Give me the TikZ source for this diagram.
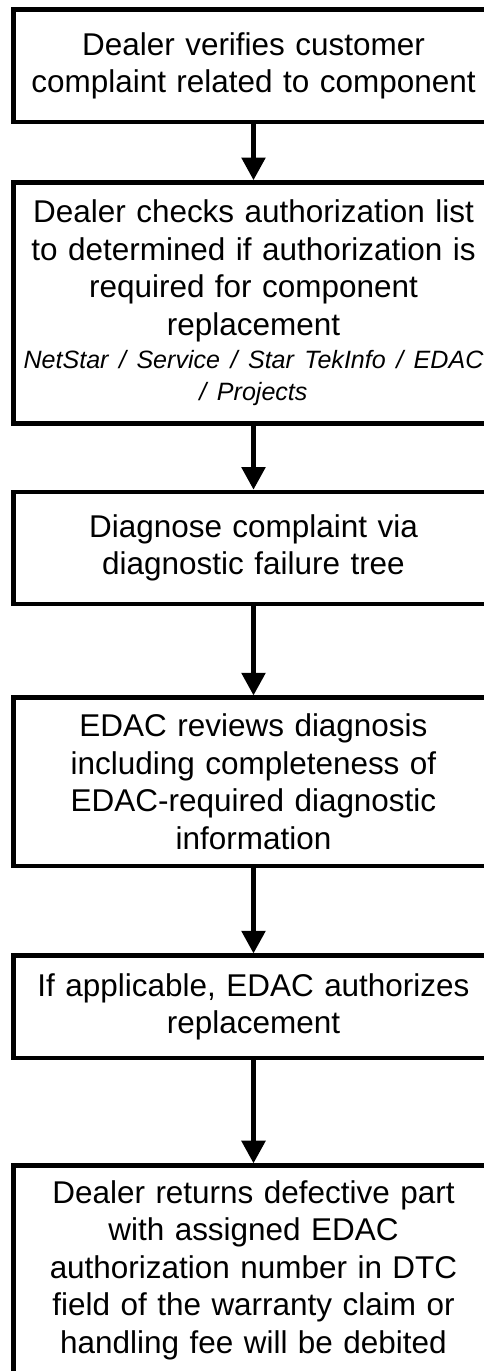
\documentclass[tikz,border=0pt]{standalone}
\usepackage{fontspec}
\setmainfont{Liberation Sans}
\usetikzlibrary{arrows.meta}

\begin{document}
\begin{tikzpicture}[x=0.75pt, y=0.75pt,
stp/.style = {draw, line width = 3.5pt, rectangle, minimum width = 360pt, inner sep = 0pt,
  text width = 356pt, align = center, font = \fontsize{23.6}{28.1}\selectfont},
arr/.style = {line width = 3.5pt, -{Triangle[length = 17pt, width = 17.5pt]}}
]
\useasboundingbox (0,0) rectangle (484,-1371);
\clip (0,0) rectangle (484,-1371);
\node[stp, minimum height = 84.2pt] (vrf) at (253.5,-65.9) {Dealer verifies customer\\ complaint related to component};
\node[stp, minimum height = 180.75pt] (chk) at (253.5,-303) {Dealer checks authorization list\\ to determined if authorization is\\ required for component\\ replacement\par
{\fontsize{18.8}{24.5}\selectfont\itshape \makebox[\linewidth]{NetStar / Service / Star TekInfo / EDAC}\\ / Projects\par}};
\node[stp, minimum height = 84pt] (dgn) at (253.5,-548) {Diagnose complaint via\\ diagnostic failure tree};
\node[stp, minimum height = 126.2pt] (rev) at (253.5,-781.9) {EDAC reviews diagnosis\\ including completeness of\\ EDAC-required diagnostic\\ information};
\node[stp, minimum height = 76.7pt] (ath) at (253.5,-1006.9) {If applicable, EDAC authorizes\\ replacement};
\node[stp, minimum height = 156.5pt] (ret) at (253.5,-1270) {Dealer returns defective part\\ with assigned EDAC\\ authorization number in DTC\\ field of the warranty claim or\\ handling fee will be debited};
\foreach \i/\j in {vrf/chk, chk/dgn, dgn/rev, rev/ath, ath/ret}{\draw[arr] (\i) -- (\j);}
\end{tikzpicture}
\end{document}
